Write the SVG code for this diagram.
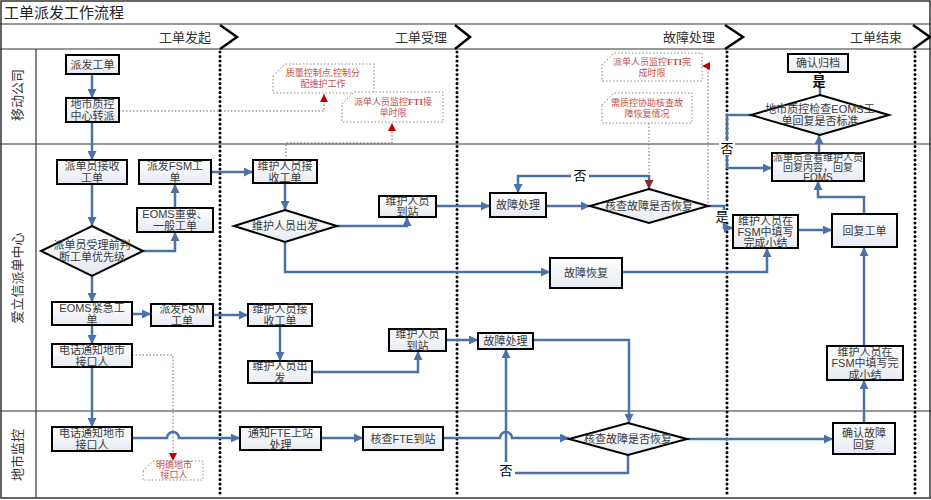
<svg xmlns="http://www.w3.org/2000/svg" width="931" height="500" viewBox="0 0 931 500">
<defs>
<linearGradient id="g" x1="0" y1="0" x2="0" y2="1"><stop offset="0" stop-color="#ffffff"/><stop offset="1" stop-color="#e6eaf1"/></linearGradient>
<marker id="a" viewBox="0 0 10 10" refX="10" refY="5" markerWidth="9" markerHeight="9" markerUnits="userSpaceOnUse" orient="auto"><path d="M0,0 L10,5 L0,10 z" fill="#4a72a8"/></marker>
<marker id="r" viewBox="0 0 10 10" refX="10" refY="5" markerWidth="8" markerHeight="8" markerUnits="userSpaceOnUse" orient="auto"><path d="M0,0 L10,5 L0,10 z" fill="#c00000"/></marker>
<marker id="dr" viewBox="0 0 10 10" refX="10" refY="5" markerWidth="9" markerHeight="9" markerUnits="userSpaceOnUse" orient="auto"><path d="M0,0 L10,5 L0,10 z" fill="#7a3030"/></marker>
<style>
.bx{fill:url(#g);stroke:#000;stroke-width:2}
.t{font-family:"Liberation Sans","Noto Sans CJK SC",sans-serif;font-size:11px;fill:#3a3a3a;text-anchor:middle}
.s{font-size:10px}
.h{font-family:"Liberation Serif","Noto Sans CJK SC",serif;font-size:13px;fill:#333;text-anchor:end}
.ln{font-family:"Liberation Serif","Noto Sans CJK SC",serif;font-size:13px;fill:#333;text-anchor:middle}
.c{fill:none;stroke:#4a72a8;stroke-width:2.5}
.nt{fill:#fff;stroke:#8a8a8a;stroke-width:1;stroke-dasharray:1.5 2}
.ntt{font-family:"Liberation Serif","Noto Sans CJK SC",serif;font-size:9px;fill:#c0504d;text-anchor:middle}
.d{fill:none;stroke:#8a5a5a;stroke-width:1;stroke-dasharray:1.5 2}
.dv{fill:none;stroke:#000;stroke-width:3;stroke-dasharray:0 4.5;stroke-linecap:round}
.hl{stroke:#333;stroke-width:1.2}
.chev{fill:none;stroke:#000;stroke-width:2.5}
.lb{font-family:"Liberation Sans","Noto Sans CJK SC",sans-serif;font-size:13px;fill:#000;text-anchor:middle}
</style>
</defs>
<rect width="931" height="500" fill="#fff"/>
<g id="frame">
<rect x="1" y="1" width="929" height="497" fill="none" stroke="#333" stroke-width="1.5"/>
<line class="hl" x1="0" y1="24" x2="931" y2="24"/>
<line class="hl" x1="0" y1="49" x2="931" y2="49"/>
<line class="hl" x1="0" y1="144" x2="931" y2="144"/>
<line class="hl" x1="0" y1="411" x2="931" y2="411"/>
<line class="hl" x1="36" y1="49" x2="36" y2="498"/>
<text x="4" y="18" font-family="Liberation Serif,Noto Sans CJK SC,serif" font-size="15" fill="#222">工单派发工作流程</text>
<text class="h" x="211" y="42">工单发起</text>
<text class="h" x="447" y="42">工单受理</text>
<text class="h" x="715" y="42">故障处理</text>
<text class="h" x="902" y="42">工单结束</text>
<path class="chev" d="M220,25 L237,37 L220,49"/>
<path class="chev" d="M455,25 L470,37 L455,49"/>
<path class="chev" d="M725,25 L743,37 L725,49"/>
<path class="chev" d="M913,25 L930,37 L913,49"/>
<line class="dv" x1="220" y1="52" x2="220" y2="497"/>
<line class="dv" x1="457" y1="52" x2="457" y2="497"/>
<line class="dv" x1="727" y1="52" x2="727" y2="497"/>
<line class="dv" x1="915" y1="52" x2="915" y2="497"/>
<text class="ln" transform="translate(22,95) rotate(-90)">移动公司</text>
<text class="ln" transform="translate(22,278) rotate(-90)">爱立信派单中心</text>
<text class="ln" transform="translate(22,455) rotate(-90)">地市监控</text>
</g>
<g id="notes">
<g id="n1"><path class="nt" d="M273,76 L285,64 H374 V93 H273 Z"/><text class="ntt" x="323" y="76">质量控制点,控制分</text><text class="ntt" x="323" y="87">配维护工作</text></g>
<g id="n2"><path class="nt" d="M342,104 L354,92 H443 V122 H342 Z"/><text class="ntt" x="393" y="104.5">派单人员监控<tspan font-weight="bold">FTI</tspan>接</text><text class="ntt" x="393" y="115.5">单时限</text></g>
<g id="n3"><path class="nt" d="M602,65 L614,53 H702 V81 H602 Z"/><text class="ntt" x="652" y="64.5">派单人员监控<tspan font-weight="bold">FTI</tspan>完</text><text class="ntt" x="652" y="75.5">成时限</text></g>
<g id="n4"><path class="nt" d="M602,105 L614,93 H692 V123 H602 Z"/><text class="ntt" x="647" y="105.5">需质控协助核查故</text><text class="ntt" x="647" y="116.5">障恢复情况</text></g>
<g id="n5"><path class="nt" d="M143,471 L153,461 H203 V480 H143 Z"/><text class="ntt" x="174" y="468">明确地市</text><text class="ntt" x="174" y="478">接口人</text></g>
</g>
<g id="connectors">
<path class="d" d="M119,111 H324 V94" marker-end="url(#r)"/>
<path class="d" d="M286,160 V143 H392 V123" marker-end="url(#r)"/>
<path class="d" d="M132,355 H173 V461" marker-end="url(#r)"/>
<path class="d" d="M708,203 V66 H702" marker-end="url(#r)"/>
<path class="c" d="M92,74 V98" marker-end="url(#a)"/>
<path class="c" d="M92,122 V160" marker-end="url(#a)"/>
<path class="c" d="M211,172 H253" marker-end="url(#a)"/>
<path class="c" d="M92,184 V226" marker-end="url(#a)"/>
<path class="c" d="M143,251 H175 V232" marker-end="url(#a)"/>
<path class="c" d="M175,208 V184" marker-end="url(#a)"/>
<path class="c" d="M92,276 V302" marker-end="url(#a)"/>
<path class="c" d="M132,314 H151" marker-end="url(#a)"/>
<path class="c" d="M213,315 H248" marker-end="url(#a)"/>
<path class="c" d="M92,325 V344" marker-end="url(#a)"/>
<path class="c" d="M92,367 V427" marker-end="url(#a)"/>
<path class="c" d="M132,438 H167 a6,6 0 0 1 12,0 H240" marker-end="url(#a)"/>
<path class="c" d="M321,438 H363" marker-end="url(#a)"/>
<path class="c" d="M443,438 H500 a6,6 0 0 1 12,0 H569" marker-end="url(#a)"/>
<path class="c" d="M687,439 H833" marker-end="url(#a)"/>
<path class="c" d="M864,423 V380" marker-end="url(#a)"/>
<path class="c" d="M864,346 V247" marker-end="url(#a)"/>
<path class="c" d="M864,214 V197 H818 V181" marker-end="url(#a)"/>
<path class="c" d="M819,153 V135" marker-end="url(#a)"/>
<path class="c" d="M820,95 V72" marker-end="url(#a)"/>
<path class="c" d="M751,115 H727 V168 H772" marker-end="url(#a)"/>
<path class="c" d="M285,183 V210" marker-end="url(#a)"/>
<path class="c" d="M337,226 H407 V217" marker-end="url(#a)"/>
<path class="c" d="M285,242 V272 H550" marker-end="url(#a)"/>
<path class="c" d="M622,272 H767 V248" marker-end="url(#a)"/>
<path class="c" d="M436,206 H490" marker-end="url(#a)"/>
<path class="c" d="M546,206 H590" marker-end="url(#a)"/>
<path class="c" d="M649,189 V176 H518 V193" marker-end="url(#a)"/>
<path class="d" d="M649,123 V189" marker-end="url(#dr)"/>
<path class="c" d="M708,206 H724 V228 H733" marker-end="url(#a)"/>
<path class="c" d="M798,230 H832" marker-end="url(#a)"/>
<path class="c" d="M280,326 V361" marker-end="url(#a)"/>
<path class="c" d="M312,372 H418 V351" marker-end="url(#a)"/>
<path class="c" d="M446,340 H478" marker-end="url(#a)"/>
<path class="c" d="M533,340 H629 V423" marker-end="url(#a)"/>
<path class="c" d="M628,455 V473 H506 V349" marker-end="url(#a)"/>
<rect x="571" y="168" width="18" height="14" fill="#fff"/><text class="lb" x="580" y="180">否</text>
<rect x="719" y="141" width="16" height="14" fill="#fff"/><text class="lb" x="727" y="153">否</text>
<rect x="811" y="74" width="17" height="14" fill="#fff"/><text class="lb" x="819" y="86" font-weight="bold">是</text>
<rect x="715" y="210" width="14" height="13" fill="#fff"/><text class="lb" x="722" y="221">是</text>
<rect x="498" y="462" width="17" height="15" fill="#fff"/><text class="lb" x="506" y="475">否</text>
</g>
<g id="p1"><rect class="bx" x="66" y="55" width="53" height="19"/><text class="t" x="92.5" y="68.5">派发工单</text></g>
<g id="p2"><rect class="bx" x="66" y="98" width="53" height="24"/><text class="t" x="92.5" y="108">地市质控</text><text class="t" x="92.5" y="120">中心转派</text></g>
<g id="p3"><rect class="bx" x="57" y="160" width="70" height="24"/><text class="t" x="92" y="170">派单员接收</text><text class="t" x="92" y="182">工单</text></g>
<g id="p4"><rect class="bx" x="139" y="160" width="72" height="24"/><text class="t" x="175" y="170">派发FSM工</text><text class="t" x="175" y="182">单</text></g>
<g id="p5"><rect class="bx" x="137" y="208" width="76" height="24"/><text class="t" x="175" y="218">EOMS重要、</text><text class="t" x="175" y="230">一般工单</text></g>
<g id="p6"><path class="bx" d="M92,226 L143,251 L92,276 L41,251 Z"/><text class="t" x="92" y="249">派单员受理前判</text><text class="t" x="92" y="261">断工单优先级</text></g>
<g id="p7"><rect class="bx" x="52" y="302" width="80" height="23"/><text class="t" x="92" y="311.5">EOMS紧急工</text><text class="t" x="92" y="323.5">单</text></g>
<g id="p8"><rect class="bx" x="151" y="304" width="62" height="22"/><text class="t" x="182" y="313">派发FSM</text><text class="t" x="182" y="325">工单</text></g>
<g id="p9"><rect class="bx" x="52" y="344" width="80" height="23"/><text class="t" x="92" y="353.5">电话通知地市</text><text class="t" x="92" y="365.5">接口人</text></g>
<g id="p10"><rect class="bx" x="52" y="427" width="80" height="24" stroke-width="2.5"/><text class="t" x="92" y="437">电话通知地市</text><text class="t" x="92" y="449">接口人</text></g>
<g id="p11"><rect class="bx" x="253" y="160" width="64" height="23"/><text class="t" x="285" y="169.5">维护人员接</text><text class="t" x="285" y="181.5">收工单</text></g>
<g id="p12"><path class="bx" d="M285,210 L337,226 L285,242 L234,226 Z"/><text class="t" x="285" y="230">维护人员出发</text></g>
<g id="p13"><rect class="bx" x="379" y="196" width="57" height="21"/><text class="t" x="407.5" y="204.5">维护人员</text><text class="t" x="407.5" y="216">到站</text></g>
<g id="p14"><rect class="bx" x="490" y="193" width="56" height="24"/><text class="t" x="518" y="209">故障处理</text></g>
<g id="p15"><path class="bx" d="M649,189 L708,206 L649,223 L590,206 Z"/><text class="t" x="649" y="210">核查故障是否恢复</text></g>
<g id="p16"><rect class="bx" x="550" y="258" width="72" height="30"/><text class="t" x="586" y="277">故障恢复</text></g>
<g id="p17"><rect class="bx" x="733" y="215" width="65" height="33"/><text class="t" x="765.5" y="224.5">维护人员在</text><text class="t" x="765.5" y="235.5">FSM中填写</text><text class="t" x="765.5" y="246.5">完成小结</text></g>
<g id="p18"><rect class="bx" x="832" y="214" width="65" height="33"/><text class="t" x="864.5" y="234.5">回复工单</text></g>
<g id="p19"><rect class="bx" x="772" y="153" width="92" height="28"/><text class="t s" x="818" y="160.5">派单员查看维护人员</text><text class="t s" x="818" y="170.5">回复内容，回复</text><text class="t s" x="818" y="180.5">EOMS</text></g>
<g id="p20"><path class="bx" d="M820,95 L889,115 L820,135 L751,115 Z"/><text class="t" x="820" y="113">地市质控检查EOMS工</text><text class="t" x="820" y="125">单回复是否标准</text></g>
<g id="p21"><rect class="bx" x="788" y="54" width="60" height="18"/><text class="t" x="818" y="67">确认归档</text></g>
<g id="p22"><rect class="bx" x="248" y="304" width="64" height="22"/><text class="t" x="280" y="313">维护人员接</text><text class="t" x="280" y="325">收工单</text></g>
<g id="p23"><rect class="bx" x="248" y="361" width="64" height="22"/><text class="t" x="280" y="370">维护人员出</text><text class="t" x="280" y="382">发</text></g>
<g id="p24"><rect class="bx" x="389" y="329" width="57" height="22"/><text class="t" x="417.5" y="338">维护人员</text><text class="t" x="417.5" y="350">到站</text></g>
<g id="p25"><rect class="bx" x="478" y="333" width="55" height="16"/><text class="t" x="505.5" y="345">故障处理</text></g>
<g id="p26"><path class="bx" d="M628,423 L687,439 L628,455 L569,439 Z"/><text class="t" x="628" y="443">核查故障是否恢复</text></g>
<g id="p27"><rect class="bx" x="833" y="423" width="62" height="31"/><text class="t" x="864" y="436.5">确认故障</text><text class="t" x="864" y="448.5">回复</text></g>
<g id="p28"><rect class="bx" x="827" y="346" width="76" height="34"/><text class="t" x="865" y="355.5">维护人员在</text><text class="t" x="865" y="367">FSM中填写完</text><text class="t" x="865" y="378.5">成小结</text></g>
<g id="p29"><rect class="bx" x="240" y="427" width="81" height="23"/><text class="t" x="280.5" y="436.5">通知FTE上站</text><text class="t" x="280.5" y="448.5">处理</text></g>
<g id="p30"><rect class="bx" x="363" y="427" width="80" height="23"/><text class="t" x="403" y="442.5">核查FTE到站</text></g>
</svg>
